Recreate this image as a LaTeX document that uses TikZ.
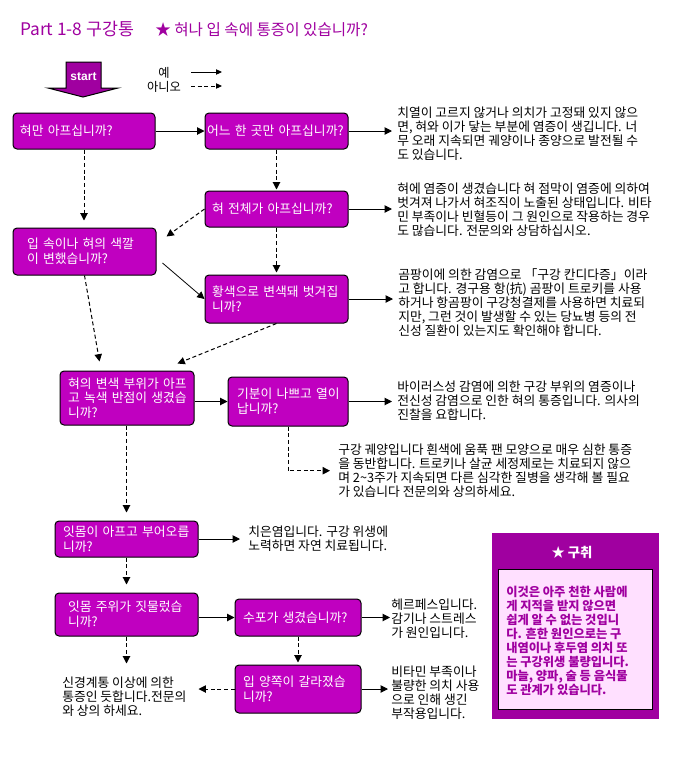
\documentclass[tikz,border=0pt]{standalone}
\usepackage{fontspec}
\setmainfont{Noto Sans CJK KR}
\newfontfamily\arialf{Liberation Sans}
\usetikzlibrary{arrows.meta,calc}
\definecolor{boxmag}{HTML}{C000C0}
\definecolor{deeppur}{HTML}{A000A0}
\definecolor{palepink}{HTML}{FFE0FF}
\newcommand{\ml}[1]{\mbox{#1}}
\begin{document}
\begin{tikzpicture}[x=0.75pt,y=-0.75pt,
  font=\fontsize{9.2}{10.5}\selectfont,
  qbox/.style n args={3}{draw=black, line width=0.75pt, fill=boxmag, rounded corners=3pt,
    text=white, inner xsep=0pt, inner ysep=0pt, minimum width=#1, minimum height=#2,
    text width=#3, align=left, font=\fontsize{9.6}{11}\selectfont},
  ans/.style={anchor=base west, inner sep=0pt, align=left, text=black, font=\fontsize{9.6}{10.5}\selectfont},
  yes/.style={draw=black, line width=0.75pt, -{Triangle[length=5.5pt,width=5.5pt]}},
  no/.style={yes, dash pattern=on 3pt off 2pt},
  lyes/.style={draw=black, line width=0.75pt, -{Triangle[length=4.5pt,width=4pt]}},
  lno/.style={lyes, dash pattern=on 3pt off 2pt},
]
\useasboundingbox (0,0) rectangle (690,758);
\fill[white] (0,0) rectangle (690,758);

% title
\node[anchor=base west, inner sep=0pt, text=deeppur, font=\fontsize{13}{14}\selectfont] (title) at (20,35) {Part 1-8 구강통};
\node[anchor=base west, inner sep=0pt, text=deeppur, font=\fontsize{11.7}{13}\selectfont] (subtitle) at (155,35) {★ 혀나 입 속에 통증이 있습니까?};

% start arrow
\filldraw[fill=deeppur, draw=black, line width=0.75pt] (66,62) -- (101,62) -- (101,88) -- (118,88) -- (83,97) -- (48,88) -- (66,88) -- cycle;
\node[text=white, font=\arialf\bfseries\fontsize{9}{10}\selectfont] (start) at (83.5,77) {start};

% legend
\node[align=center, inner sep=0pt] (legend) at (164,80) {예\\아니오};
\coordinate (ly1) at (191,72); \coordinate (ly2) at (222,72);
\coordinate (ln1) at (191,86); \coordinate (ln2) at (222,86);
\draw[lyes] (ly1) -- (ly2);
\draw[lno] (ln1) -- (ln2);

% question boxes
\node[qbox={106.5pt}{27pt}{96pt}] (b1) at (84,131) {\ml{혀만 아프십니까?}};
\node[qbox={107.25pt}{27pt}{104.25pt}] (b2) at (276.5,131) {\ml{어느 한 곳만 아프십니까?}};
\node[qbox={107.25pt}{27pt}{96.75pt}] (b3) at (276.5,209) {\ml{혀 전체가 아프십니까?}};
\node[qbox={107.25pt}{35.25pt}{86.25pt}] (b4) at (84.5,251.5) {\ml{입 속이나 혀의 색깔}\\\ml{이 변했습니까?}};
\node[qbox={107.25pt}{36pt}{96.75pt}] (b5) at (276.5,299) {\ml{황색으로 변색돼 벗겨집}\\\ml{니까?}};
\node[qbox={100.5pt}{40.5pt}{88.5pt}] (b6) at (127,398) {\ml{혀의 변색 부위가 아프}\\\ml{고 녹색 반점이 생겼습}\\\ml{니까?}};
\node[qbox={90pt}{36.75pt}{76.5pt}] (b7) at (288,401.5) {\ml{기분이 나쁘고 열이}\\\ml{납니까?}};
\node[qbox={107.25pt}{27pt}{95.25pt}] (b8) at (126.5,539) {\ml{잇몸이 아프고 부어오릅}\\\ml{니까?}};
\node[qbox={107.25pt}{32.25pt}{87.75pt}] (b9) at (126.5,614.5) {\ml{잇몸 주위가 짓물렀습}\\\ml{니까?}};
\node[qbox={94.5pt}{27.75pt}{82.5pt}] (b10) at (298,617.5) {\ml{수포가 생겼습니까?}};
\node[qbox={94.5pt}{36pt}{82.5pt}] (b11) at (298,689) {\ml{입 양쪽이 갈라졌습}\\\ml{니까?}};

% answer texts (anchor = baseline of last line)
\node[ans] (a1) at (397,159.5) {치열이 고르지 않거나 의치가 고정돼 있지 않으\\면, 혀와 이가 닿는 부분에 염증이 생깁니다. 너\\무 오래 지속되면 궤양이나 종양으로 발전될 수\\도 있습니다.};
\node[ans] (a2) at (397,235.5) {혀에 염증이 생겼습니다 혀 점막이 염증에 의하여\\벗겨져 나가서 혀조직이 노출된 상태입니다. 비타\\민 부족이나 빈혈등이 그 원인으로 작용하는 경우\\도 많습니다. 전문의와 상담하십시오.};
\node[ans] (a3) at (398,335) {곰팡이에 의한 감염으로 「구강 칸디다증」이라\\고 합니다. 경구용 항(抗) 곰팡이 트로키를 사용\\하거나 항곰팡이 구강청결제를 사용하면 치료되\\지만, 그런 것이 발생할 수 있는 당뇨병 등의 전\\신성 질환이 있는지도 확인해야 합니다.};
\node[ans] (a4) at (397,419) {바이러스성 감염에 의한 구강 부위의 염증이나\\전신성 감염으로 인한 혀의 통증입니다. 의사의\\진찰을 요합니다.};
\node[ans] (a5) at (338,496.5) {구강 궤양입니다 흰색에 움푹 팬 모양으로 매우 심한 통증\\을 동반합니다. 트로키나 살균 세정제로는 치료되지 않으\\며 2\textasciitilde3주가 지속되면 다른 심각한 질병을 생각해 볼 필요\\가 있습니다 전문의와 상의하세요.};
\node[ans] (a6) at (248,550.5) {치은염입니다. 구강 위생에\\노력하면 자연 치료됩니다.};
\node[ans] (a7) at (391,637.5) {헤르페스입니다.\\감기나 스트레스\\가 원인입니다.};
\node[ans] (a8) at (391,718.5) {비타민 부족이나\\불량한 의치 사용\\으로 인해 생긴\\부작용입니다.};
\node[ans] (a9) at (62,715.5) {신경계통 이상에 의한\\통증인 듯합니다.전문의\\와 상의 하세요.};

% sidebar
\node[fill=deeppur, minimum width=125.25pt, minimum height=139.5pt, inner sep=0pt] (side) at (575.5,626) {};
\node[fill=palepink, draw=black, line width=0.75pt, minimum width=115.5pt, minimum height=105pt, inner sep=0pt] (sidein) at (575,639) {};
\node[text=white, font=\bfseries\fontsize{10}{11}\selectfont] (sidetitle) at (572,552) {★ 구취};
\node[ans, text=deeppur, font=\bfseries\fontsize{9.2}{10.5}\selectfont] (sidetext) at (506,694.5) {이것은 아주 천한 사람에\\게 지적을 받지 않으면\\쉽게 알 수 없는 것입니\\다. 흔한 원인으로는 구\\내염이나 후두염 의치 또\\는 구강위생 불량입니다.\\마늘, 양파, 술 등 음식물\\도 관계가 있습니다.};

% coordinates for free ends
\coordinate (b4tip) at ($(b4.north east)+(10,9)$);
\coordinate (b4out) at ($(b4.east)+(6,11.5)$);
\coordinate (b6in1) at ($(b6.north west)+(40,-9)$);
\coordinate (b6in2) at ($(b6.north east)+(-17,-7)$);
\coordinate (a9in) at ($(b11.west)+(-36,0)$);
\coordinate (b9end) at ($(b9.south)+(0,27)$);

% connectors
\draw[yes] (b1) -- (b2);
\draw[yes, shorten >=3.75pt] (b2.east) -- (b2.east -| a1.west);
\draw[no, shorten >=5.25pt] (b1.south) -- (b4.north -| b1.south);
\draw[no, shorten >=0.75pt] (b2.south) -- (b3.north);
\draw[yes, shorten >=3.75pt] (b3.east) -- (b3.east -| a2.west);
\draw[no] (b3.west) -- (b4tip);
\draw[no, shorten >=1.5pt] (b3.south) -- (b5.north);
\draw[yes, line width=0.6pt] (b4out) -- (b5.west);
\draw[yes, shorten >=3.75pt] (b5.east) -- (b5.east -| a3.west);
\draw[no] (b4.south) -- (b6in1);
\draw[no] (b5.south) -- (b6in2);
\draw[yes] (b7.west -| b6.east) -- (b7.west);
\draw[yes, shorten >=3.75pt] (b7.east) -- (b7.east -| a4.west);
\draw[no, shorten >=6pt] (b7.south) |- (a5.west);
\draw[no, shorten >=6pt] (b6.south -| b8.north) -- (b8.north);
\draw[yes, shorten >=6pt] (b8.east) -- (b8.east -| a6.west);
\draw[no, shorten >=6pt] (b8.south) -- (b9.north);
\draw[yes] (b10.west -| b9.east) -- (b10.west);
\draw[yes, shorten >=0.75pt] (b10.east) -- (b10.east -| a7.west);
\draw[no, shorten >=1.5pt] (b10.south) -- (b11.north);
\draw[yes, shorten >=2.25pt] (b11.east) -- (b11.east -| a8.west);
\draw[no] (b11.west) -- (a9in);
\draw[no] (b9.south) -- (b9end);
\end{tikzpicture}
\end{document}
